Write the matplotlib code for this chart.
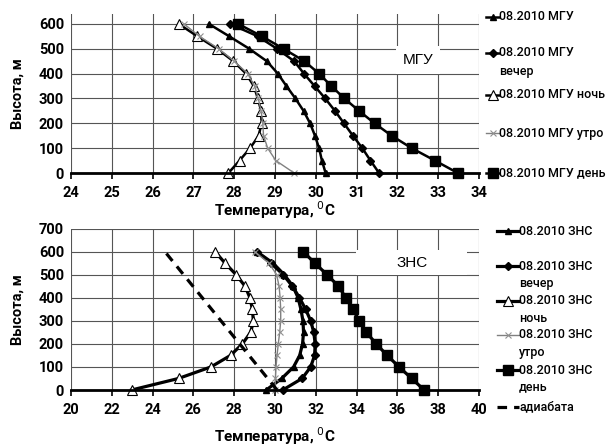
import matplotlib
matplotlib.use("Agg")
import matplotlib.pyplot as plt
from matplotlib.lines import Line2D

plt.rcParams['font.family'] = ['Roboto', 'DejaVu Sans']

heights = [0, 50, 100, 150, 200, 250, 300, 350, 400, 450, 500, 550, 600]

# МГУ
mgu = [30.24, 30.15, 30.08, 29.98, 29.86, 29.70, 29.50, 29.28, 29.07, 28.80, 28.37, 27.88, 27.38]
mgu_evening = [31.55, 31.34, 31.14, 30.91, 30.69, 30.47, 30.23, 29.97, 29.71, 29.47, 29.05, 28.58, 27.90]
mgu_night = [27.86, 28.13, 28.39, 28.60, 28.67, 28.66, 28.58, 28.48, 28.29, 27.98, 27.58, 27.10, 26.64]
mgu_morning = [29.47, 29.02, 28.82, 28.72, 28.70, 28.66, 28.59, 28.50, 28.33, 28.00, 27.62, 27.15, 26.77]
mgu_day = [33.48, 32.92, 32.35, 31.86, 31.44, 31.06, 30.70, 30.38, 30.08, 29.72, 29.21, 28.68, 28.10]

# ЗНС
zns = [29.57, 30.33, 30.91, 31.21, 31.35, 31.40, 31.37, 31.27, 31.13, 30.88, 30.45, 29.90, 29.10]
zns_evening = [30.38, 31.33, 31.75, 31.94, 31.97, 31.90, 31.75, 31.50, 31.20, 30.85, 30.40, 29.80, 29.10]
zns_night = [22.97, 25.27, 26.86, 27.82, 28.40, 28.81, 28.94, 28.89, 28.77, 28.53, 28.09, 27.55, 27.06]
zns_morning = [30.00, 30.02, 30.05, 30.10, 30.16, 30.23, 30.28, 30.28, 30.25, 30.20, 30.08, 29.70, 29.00]
zns_day = [37.31, 36.70, 36.08, 35.50, 34.96, 34.48, 34.13, 33.81, 33.47, 33.11, 32.55, 31.95, 31.38]
adiab_h = [0, 600]
adiab_t = [30.1, 24.6]

mgu_labels = ["08.2010 МГУ", "08.2010 МГУ\nвечер", "08.2010 МГУ ночь", "08.2010 МГУ утро", "08.2010 МГУ день"]
zns_labels = ["08.2010 ЗНС", "08.2010 ЗНС\nвечер", "08.2010 ЗНС\nночь", "08.2010 ЗНС\nутро",
              "08.2010 ЗНС\nдень", "адиабата"]

W, H = 611, 448
fig = plt.figure(figsize=(W / 100, H / 100), dpi=100)


def fx(px):
    return px / W


def fy(py):
    return 1 - py / H


def style_axes(ax, xlim, xticks, ylim, yticks):
    ax.set_xlim(*xlim)
    ax.set_ylim(*ylim)
    ax.set_xticks(xticks)
    ax.set_yticks(yticks)
    ax.grid(True, color='#555555', lw=0.8)
    ax.set_axisbelow(True)
    for s in ['top', 'right', 'left']:
        ax.spines[s].set_visible(False)
    ax.spines['bottom'].set_linewidth(2)
    ax.tick_params(axis='x', direction='out', length=4, width=1.2, labelsize=10.5, pad=5)
    ax.tick_params(axis='y', length=0, labelsize=10.5, pad=5)
    for lab in ax.get_xticklabels() + ax.get_yticklabels():
        lab.set_fontweight('bold')
    ax.set_ylabel("Высота, м", fontsize=10.5, fontweight='bold')
    ax.yaxis.set_label_coords(-0.115, 0.5)


styles = [
    dict(color='black', lw=1.8, marker='^', ms=5, mfc='black', mec='black'),
    dict(color='black', lw=1.8, marker='D', ms=4, mfc='black', mec='black'),
    dict(color='black', lw=1.8, marker='^', ms=7, mfc='white', mec='black', mew=0.8),
    dict(color='#808080', lw=1.0, marker='x', ms=4, mec='#909090', mew=0.8),
    dict(color='black', lw=1.8, marker='s', ms=6.5, mfc='black', mec='black'),
]

# top chart
ax1 = fig.add_axes([fx(71), fy(173), fx(479) - fx(71), fy(14) - fy(173)])
style_axes(ax1, (24, 34), range(24, 35), (0, 640), range(0, 601, 100))
for vals, st in zip([mgu, mgu_evening, mgu_night, mgu_morning, mgu_day], styles):
    ax1.plot(vals, heights, clip_on=False, **st)
ax1.set_xlabel("Температура, $^0$C", fontsize=11, fontweight='bold', labelpad=0)
ax1.text(418, H - 60, "МГУ", transform=None, fontsize=11, family='Liberation Sans',
         ha='center', va='center',
         bbox=dict(boxstyle='square,pad=0.45', fc='white', ec='none'))

# bottom chart
ax2 = fig.add_axes([fx(71), fy(390), fx(479) - fx(71), fy(228.5) - fy(390)])
style_axes(ax2, (20, 40), range(20, 41, 2), (0, 700), range(0, 701, 100))
zstyles = [dict(st) for st in styles]
for st in zstyles:
    if st['color'] == 'black':
        st['lw'] = 2.3
for vals, st in zip([zns, zns_evening, zns_night, zns_morning, zns_day], zstyles):
    ax2.plot(vals, heights, clip_on=False, **st)
ax2.plot(adiab_t, adiab_h, color='black', lw=2.3, ls=(0, (3, 2.2)))
ax2.set_xlabel("Температура, $^0$C", fontsize=11, fontweight='bold', labelpad=6)
ax2.text(412, H - 263, "ЗНС", transform=None, fontsize=11, family='Liberation Sans',
         ha='center', va='center',
         bbox=dict(boxstyle='square,pad=0', fc='white', ec='none'))
ax2.add_patch(plt.Rectangle((fx(356), fy(275)), fx(467) - fx(356), fy(250) - fy(275),
                            transform=fig.transFigure, fc='white', ec='none', zorder=1))


# hand-made legends
def legend_entry(x0, x1, y, st, text, tx, ysp):
    st = dict(st)
    fig.add_artist(Line2D([fx(x0), fx(x1)], [fy(y), fy(y)], color=st.pop('color'),
                          lw=st.pop('lw'), ls='-', transform=fig.transFigure))
    fig.add_artist(Line2D([fx((x0 + x1) / 2)], [fy(y)], transform=fig.transFigure, **st))
    for i, ln in enumerate(text.split("\n")):
        fig.text(fx(tx), fy(y + i * ysp), ln, fontsize=9, va='center', ha='left',
                 fontweight='medium')


for text, st, y in zip(mgu_labels, styles, [17, 53, 95, 133, 173]):
    legend_entry(486, 499, y, st, text, 499, 19)

for text, st, y in zip(zns_labels[:5], zstyles, [231, 266, 301, 335, 370]):
    legend_entry(497, 519, y, st, text, 519, 17)
fig.add_artist(Line2D([fx(497), fx(519)], [fy(407), fy(407)], color='black', lw=2.3,
                      ls=(0, (3, 2.2)), transform=fig.transFigure))
fig.text(fx(519), fy(407), zns_labels[5], fontsize=9, va='center', ha='left',
         fontweight='medium')

fig.savefig("out.png", dpi=100)
